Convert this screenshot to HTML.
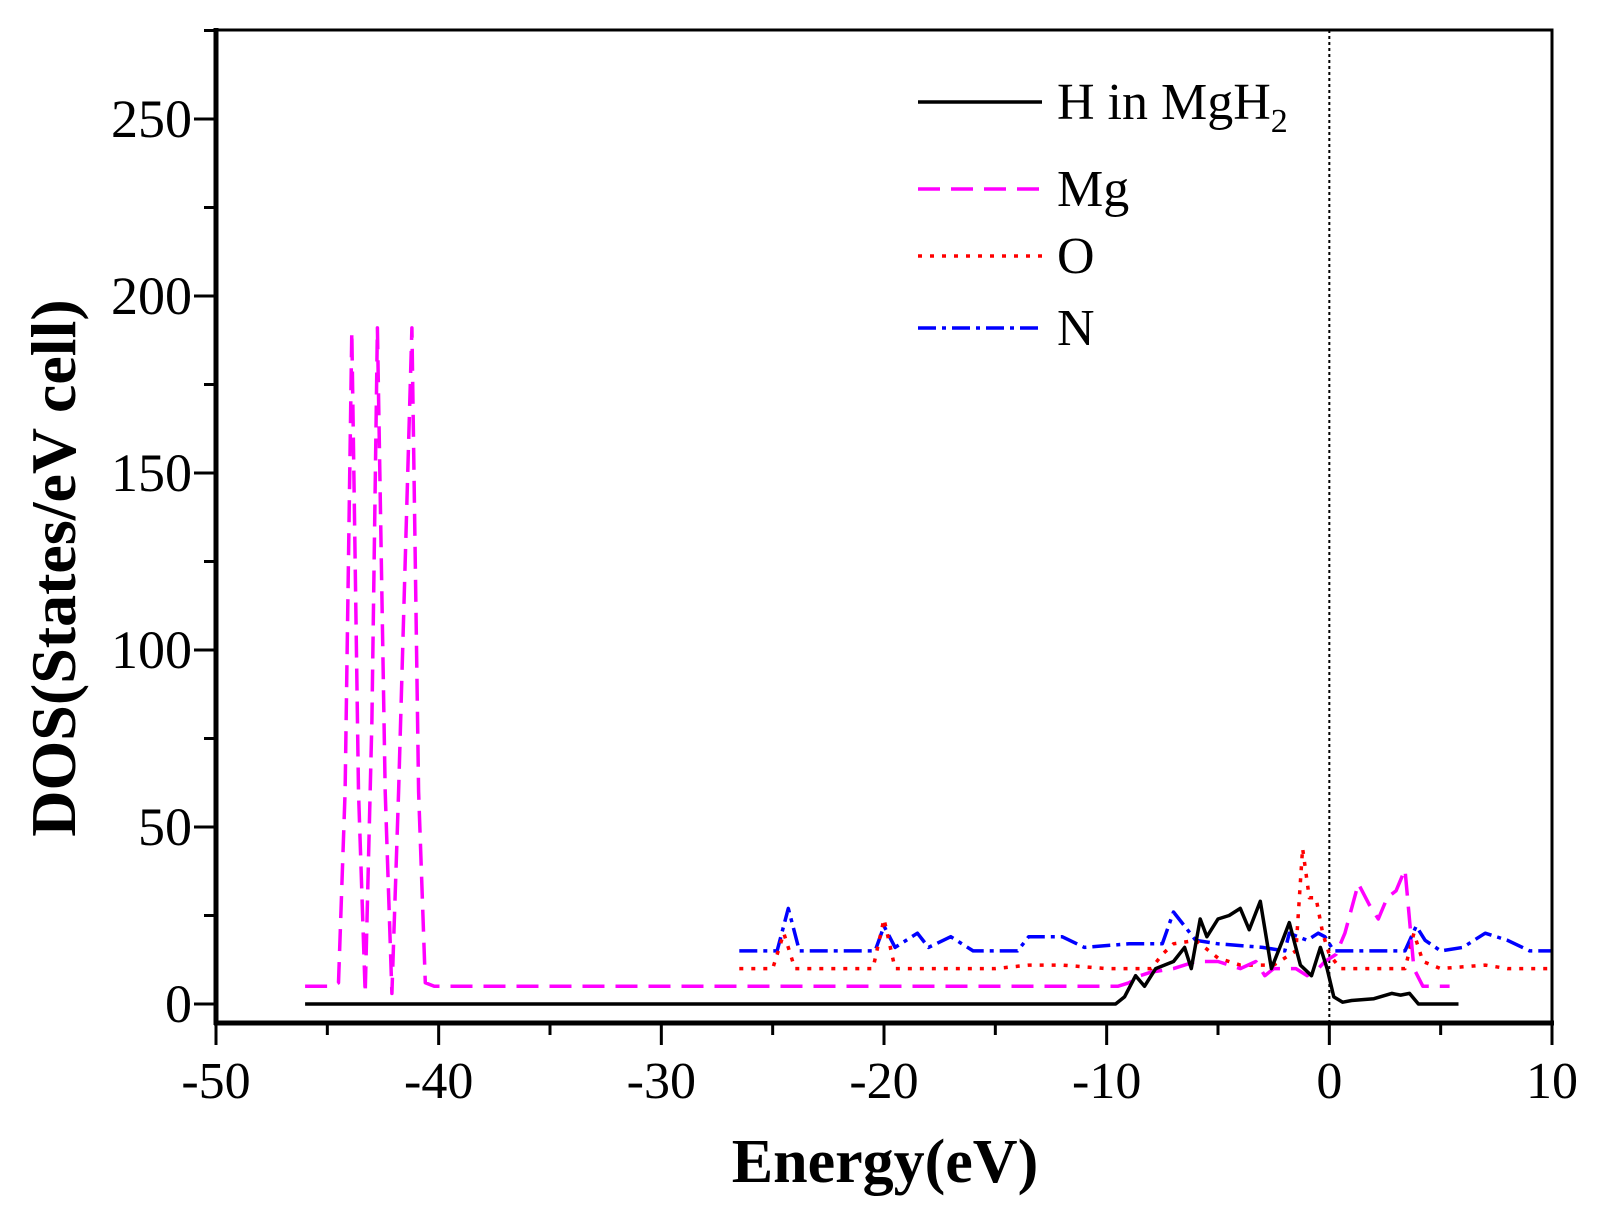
<!DOCTYPE html>
<html><head><meta charset="utf-8">
<style>
html,body{margin:0;padding:0;background:#fff;}
svg{display:block;font-family:"Liberation Serif",serif;}
</style></head>
<body>
<svg id="chart" width="1597" height="1217" viewBox="0 0 1597 1217" xmlns="http://www.w3.org/2000/svg">
<rect x="0" y="0" width="1597" height="1217" fill="#fff"/>
<g id="ticks"></g>
<g id="series"></g>
<rect x="216" y="30" width="1336" height="993" fill="none" stroke="#000" stroke-width="3"/>
<line x1="214" y1="1023" x2="1554" y2="1023" stroke="#000" stroke-width="5"/>
<line x1="216" y1="28" x2="216" y2="1025" stroke="#000" stroke-width="5"/>
<text x="885" y="1182" font-size="62" font-weight="bold" text-anchor="middle">Energy(eV)</text>
<text transform="translate(75,568) rotate(-90)" font-size="64" font-weight="bold" text-anchor="middle">DOS(States/eV cell)</text>
<g>
  <g>
    <line x1="918" y1="102" x2="1042" y2="102" stroke="#000" stroke-width="3.5"/>
    <text x="1057" y="119" font-size="52">H in MgH<tspan font-size="34" dy="13">2</tspan></text>
  </g>
  <g>
    <line x1="918" y1="189" x2="1042" y2="189" stroke="#ff00ff" stroke-width="3.5" stroke-dasharray="22,11"/>
    <text x="1057" y="206" font-size="52">Mg</text>
  </g>
  <g>
    <line x1="918" y1="256" x2="1042" y2="256" stroke="#ff0000" stroke-width="3.5" stroke-dasharray="4,8"/>
    <text x="1057" y="273" font-size="52">O</text>
  </g>
  <g>
    <line x1="918" y1="328" x2="1042" y2="328" stroke="#0000ff" stroke-width="3.5" stroke-dasharray="18,6,4,6"/>
    <text x="1057" y="345" font-size="52">N</text>
  </g>
</g>
</svg>
<script>
const xTicks = [-50,-40,-30,-20,-10,0,10];
const yTicks = [0,50,100,150,200,250];
const hX = [-46,-9.6,-9.2,-8.7,-8.3,-7.8,-7,-6.5,-6.2,-5.8,-5.5,-5,-4.5,-4,-3.6,-3.1,-2.6,-2.1,-1.8,-1.3,-0.8,-0.4,-0.1,0.2,0.6,1,2,2.8,3.2,3.6,4,5.8];
const hY = [0,0,2,8,5,10,12,16,10,24,19,24,25,27,21,29,10,18,23,11,8,16,10,2,0.5,1,1.5,3,2.5,3,0,0];
const mgX = [-46,-44.8,-44.5,-44.2,-43.9,-43.6,-43.3,-43.0,-42.75,-42.4,-42.1,-41.8,-41.2,-40.9,-40.6,-40.2,-9.5,-9,-8.5,-8,-7,-6,-5,-4,-3.3,-2.9,-2.5,-1.5,-1,-0.5,-0.2,0.3,0.7,1.3,1.8,2.2,2.6,3.0,3.4,3.8,4.2,5.4];
const mgY = [5,5,6,60,190,60,3,80,191,60,3,60,191,60,6,5,5,6,8,9,10,12,12,10,12,8,10,10,8,10,12,14,20,34,28,24,30,32,38,10,5,5];
const oX = [-26.5,-25,-24.5,-24,-20.5,-20,-19.5,-15,-13.5,-12,-10,-8,-7.5,-7,-6,-5,-4,-2.5,-1.5,-1.2,-0.9,-0.6,-0.3,0,0.5,3.4,3.8,4.2,5,7,8,10];
const oY = [10,10,20,10,10,24,10,10,11,11,10,10,14,17,18,13,11,11,15,44,30,30,20,14,10,10,20,12,10,11,10,10];
const nX = [-26.5,-24.8,-24.3,-23.8,-20.4,-20,-19.5,-18.5,-18,-17,-16,-14,-13.5,-12,-11,-9,-7.5,-7,-6.5,-6,-5,-3,-2,-1.8,-1,-0.5,-0.2,0.2,3.4,3.9,4.3,5,6,7,8,9,10];
const nY = [15,15,27,15,15,22,16,20,16,19,15,15,19,19,16,17,17,26,22,18,17,16,15,20,18,20,19,15,15,22,18,15,16,20,18,15,15];

const xs = v => 216 + (v + 50) * (1336 / 60);
const ys = v => 1004 - v * (885 / 250);
const NS = 'http://www.w3.org/2000/svg';
const tg = document.getElementById('ticks');
const sg = document.getElementById('series');
function mk(tag, attrs, parent){const e=document.createElementNS(NS,tag);for(const k in attrs)e.setAttribute(k,attrs[k]);parent.appendChild(e);return e;}

xTicks.forEach((t,i)=>{
  const x = xs(t);
  const l = mk('line',{x1:x,y1:1023,x2:x,y2:1045,stroke:'#000','stroke-width':3},tg);
  
  
  const tx = mk('text',{x:x,y:1098,'font-size':52,'text-anchor':'middle'},tg);
  tx.textContent = t;
  
  
  if(i < xTicks.length-1){
    const m = mk('line',{x1:xs(t+5),y1:1023,x2:xs(t+5),y2:1035,stroke:'#000','stroke-width':3},tg);
    
    
  }
});
yTicks.forEach(t=>{
  const y = ys(t);
  const l = mk('line',{x1:194,y1:y,x2:216,y2:y,stroke:'#000','stroke-width':3},tg);
  
  
  const tx = mk('text',{x:192,y:y+18,'font-size':54,'text-anchor':'end'},tg);
  tx.textContent = t;
  
  
  const m = mk('line',{x1:204,y1:ys(t+25),x2:216,y2:ys(t+25),stroke:'#000','stroke-width':3},tg);
  
  
});

const fermi = mk('line',{x1:xs(0),y1:30,x2:xs(0),y2:1023,stroke:'#000','stroke-width':2,'stroke-dasharray':'3,3'},sg);



function series(X,Y,color,dash,name){
  const d = X.map((x,i)=>(i?'L':'M')+xs(x).toFixed(1)+','+ys(Y[i]).toFixed(1)).join(' ');
  const p = mk('path',{d:d,fill:'none',stroke:color,'stroke-width':3.5,'stroke-linejoin':'round'},sg);
  if(dash) p.setAttribute('stroke-dasharray',dash);
  
  
}
series(nX,nY,'#0000ff','18,6,4,6','series-n');
series(oX,oY,'#ff0000','4,8','series-o');
series(mgX,mgY,'#ff00ff','22,11','series-mg');
series(hX,hY,'#000000',null,'series-h-in-mgh2');
</script>
</body></html>
